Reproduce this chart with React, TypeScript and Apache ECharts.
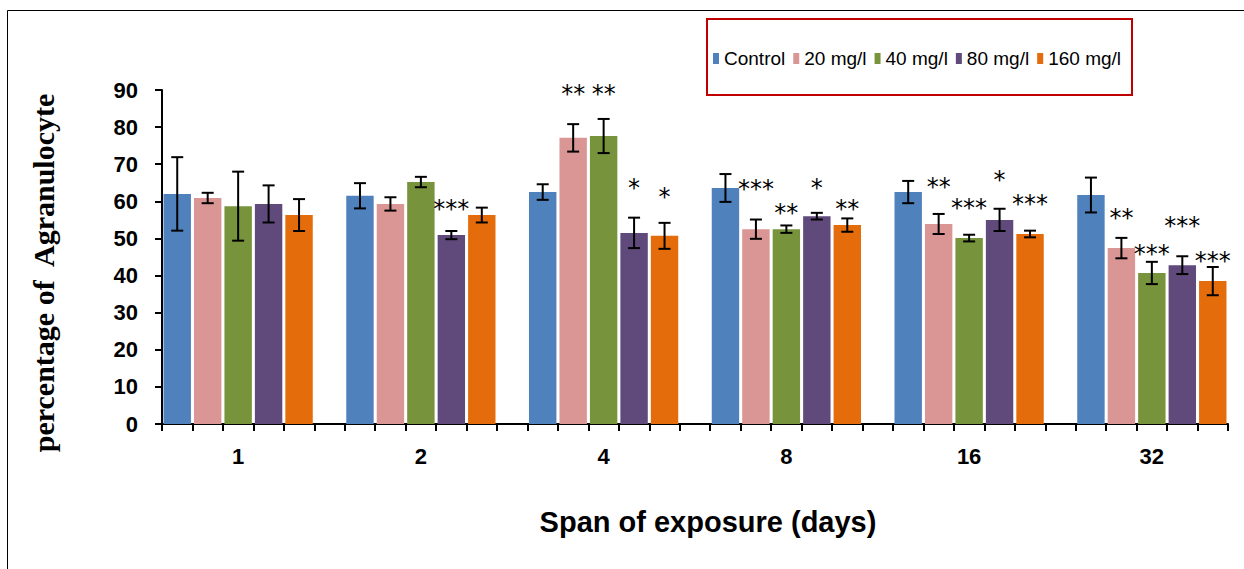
import React, { useEffect, useRef } from "react";
import * as echarts from "echarts";

// ---- data ----
const days = ["1", "2", "4", "8", "16", "32"];
const seriesNames = ["Control", "20 mg/l", "40 mg/l", "80 mg/l", "160 mg/l"];
const seriesColors = ["#4F81BD", "#D99694", "#77933C", "#604A7B", "#E46C0A"];

const control = [62.0, 61.5, 62.5, 63.6, 62.5, 61.7];
const mg20 = [60.9, 59.3, 77.1, 52.5, 53.9, 47.4];
const mg40 = [58.7, 65.2, 77.6, 52.5, 50.1, 40.7];
const mg80 = [59.3, 50.9, 51.5, 56.0, 55.0, 42.8];
const mg160 = [56.3, 56.3, 50.7, 53.6, 51.2, 38.5];

const controlErr = [9.9, 3.4, 2.1, 3.75, 3.0, 4.7];
const mg20Err = [1.4, 1.8, 3.7, 2.6, 2.7, 2.75];
const mg40Err = [9.3, 1.4, 4.6, 1.0, 0.9, 3.0];
const mg80Err = [5.0, 1.1, 4.1, 0.9, 3.0, 2.4];
const mg160Err = [4.3, 2.0, 3.5, 1.8, 0.9, 3.8];

// significance markers and the value level where each sits
const controlStars = ["", "", "", "", "", ""];
const controlStarY = [null, null, null, null, null, null];
const mg20Stars = ["", "", "**", "***", "**", "**"];
const mg20StarY = [null, null, 90.5, 64.9, 65.6, 57.2];
const mg40Stars = ["", "", "**", "**", "***", "***"];
const mg40StarY = [null, null, 90.5, 58.5, 59.9, 47.3];
const mg80Stars = ["", "***", "*", "*", "*", "***"];
const mg80StarY = [null, 59.6, 65.3, 65.2, 67.5, 55.0];
const mg160Stars = ["", "", "*", "**", "***", "***"];
const mg160StarY = [null, null, 62.8, 59.5, 60.8, 45.5];

const yTicks = { min: 0, max: 90, interval: 10 };

// ---- build library structures ----
const allValues = [control, mg20, mg40, mg80, mg160];
const allErrs = [controlErr, mg20Err, mg40Err, mg80Err, mg160Err];
const allStars = [controlStars, mg20Stars, mg40Stars, mg80Stars, mg160Stars];
const allStarY = [controlStarY, mg20StarY, mg40StarY, mg80StarY, mg160StarY];

const perGroup = seriesNames.length + 1; // 5 bars + 1 empty slot
const nSlots = days.length * perGroup - 1;
const slotNames = Array.from({ length: nSlots }, (_, i) => "slot" + i);

export default function App() {
  const ref = useRef<HTMLDivElement>(null);

  useEffect(() => {
    if (!ref.current) return;
    const chart = echarts.init(ref.current, null, { renderer: "svg" });

    const barSeries = seriesNames.map((name, s) => {
      const data: any[] = Array(nSlots).fill("-");
      allValues[s].forEach((v, g) => {
        data[g * perGroup + s] = v;
      });
      return {
        name,
        type: "bar",
        data,
        barWidth: "90%",
        barGap: "-100%",
        itemStyle: { color: seriesColors[s] },
        z: 2,
      };
    });

    const errData: number[][] = [];
    const starData: number[][] = [];
    const starText: string[] = [];
    seriesNames.forEach((_, s) => {
      allValues[s].forEach((v, g) => {
        const slot = g * perGroup + s;
        errData.push([slot, v, allErrs[s][g]]);
        const st = allStars[s][g];
        const sy = allStarY[s][g];
        if (st && sy != null) {
          starData.push([slot, sy]);
          starText.push(st);
        }
      });
    });

    const font = "'Liberation Sans', Arial, sans-serif";

    chart.setOption({
      animation: false,
      grid: { left: 162, right: 16, top: 90, bottom: 145, containLabel: false },
      legend: {
        data: seriesNames,
        left: 713,
        top: 49,
        padding: 0,
        icon: "rect",
        itemWidth: 6,
        itemHeight: 11,
        itemGap: 8,
        textStyle: { fontFamily: font, fontSize: 19, color: "#000" },
      },
      xAxis: {
        type: "category",
        data: slotNames,
        boundaryGap: true,
        axisLine: { lineStyle: { color: "#000", width: 2 } },
        axisTick: { show: true, interval: 0, length: 7, lineStyle: { color: "#000", width: 2 } },
        axisLabel: {
          interval: 0,
          formatter: (_v: string, i: number) =>
            i % perGroup === 2 ? days[(i - 2) / perGroup] : "",
          fontFamily: font,
          fontWeight: "bold",
          fontSize: 22,
          color: "#000",
          margin: 21,
        },
        splitLine: { show: false },
        name: "Span of exposure (days)",
        nameLocation: "middle",
        nameGap: 83,
        nameTextStyle: {
          fontFamily: font,
          fontWeight: "bold",
          fontSize: 29,
          color: "#000",
          padding: [0, 0, 0, 26],
        },
      },
      yAxis: {
        type: "value",
        min: yTicks.min,
        max: yTicks.max,
        interval: yTicks.interval,
        axisLine: { show: true, lineStyle: { color: "#000", width: 2 } },
        axisTick: { show: true, length: 7, lineStyle: { color: "#000", width: 2 } },
        axisLabel: {
          fontFamily: font,
          fontWeight: "bold",
          fontSize: 22,
          color: "#000",
          margin: 24,
        },
        splitLine: { show: false },
        name: "percentage of  Agranulocyte",
        nameLocation: "middle",
        nameGap: 104,
        nameTextStyle: {
          fontFamily: "'Liberation Serif', 'Times New Roman', serif",
          fontWeight: "bold",
          fontSize: 30,
          color: "#000",
          padding: [0, 32, 0, 0],
        },
      },
      graphic: [
        {
          type: "rect",
          shape: { x: 7.5, y: 10.5, width: 1400, height: 700 },
          style: { fill: "none", stroke: "#000", lineWidth: 1 },
          silent: true,
        },
        {
          type: "rect",
          shape: { x: 707, y: 19, width: 425, height: 76 },
          style: { fill: "none", stroke: "#C00000", lineWidth: 2 },
          silent: true,
        },
      ],
      series: [
        ...barSeries,
        {
          type: "custom",
          name: "errors",
          data: errData,
          z: 10,
          renderItem: (_params: any, api: any) => {
            const x = api.value(0);
            const m = api.value(1);
            const e = api.value(2);
            const top = api.coord([x, m + e]);
            const bot = api.coord([x, m - e]);
            const hw = 6;
            const st = { stroke: "#000", lineWidth: 2 };
            return {
              type: "group",
              children: [
                { type: "line", shape: { x1: top[0], y1: top[1], x2: bot[0], y2: bot[1] }, style: st },
                { type: "line", shape: { x1: top[0] - hw, y1: top[1], x2: top[0] + hw, y2: top[1] }, style: st },
                { type: "line", shape: { x1: bot[0] - hw, y1: bot[1], x2: bot[0] + hw, y2: bot[1] }, style: st },
              ],
            };
          },
        },
        {
          type: "custom",
          name: "stars",
          data: starData,
          z: 11,
          renderItem: (params: any, api: any) => {
            const p = api.coord([api.value(0), api.value(1)]);
            return {
              type: "text",
              x: p[0],
              y: p[1] + 6,
              style: {
                text: starText[params.dataIndex],
                fill: "#000",
                fontFamily: "'DejaVu Sans', sans-serif",
                fontSize: 24,
                align: "center",
                verticalAlign: "middle",
              },
            };
          },
        },
      ],
    });

    return () => chart.dispose();
  }, []);

  return (
    <div
      ref={ref}
      style={{ position: "absolute", left: 0, top: 0, width: 1244, height: 569, background: "#fff" }}
    />
  );
}
